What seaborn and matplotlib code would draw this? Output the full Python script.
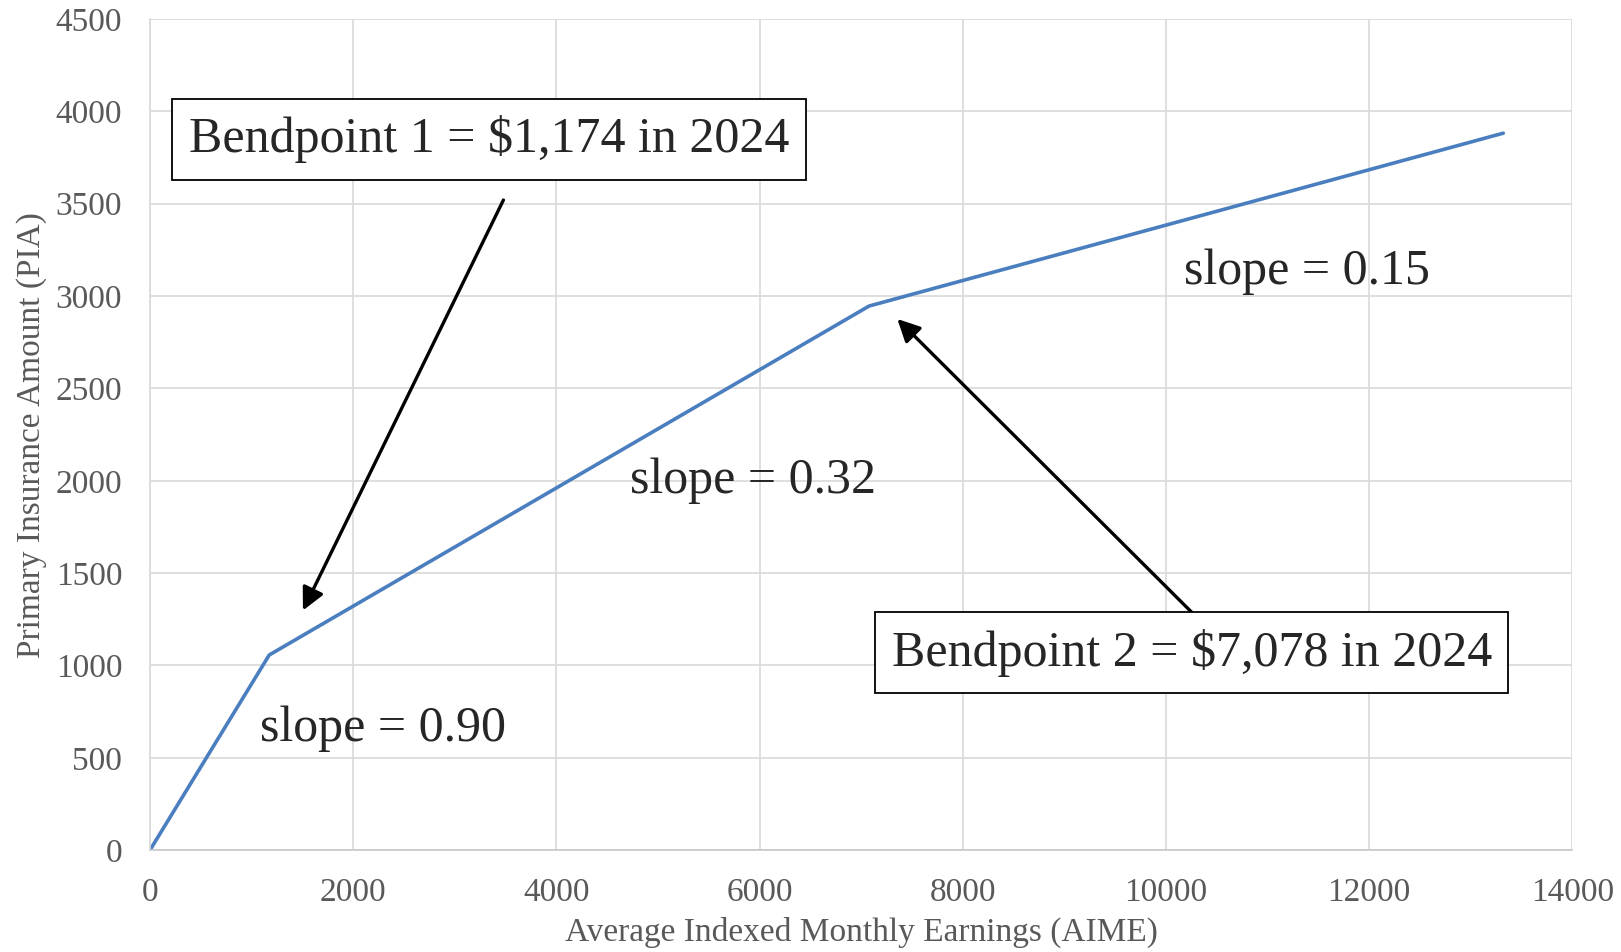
import matplotlib
matplotlib.use("Agg")
import matplotlib.pyplot as plt
import seaborn as sns
import pandas as pd

# PIA formula kink points (2024 bendpoints)
aime = [0, 1174, 7078, 13320]
pia = [0, 1056.6, 2946.0, 3882.0]

x_ticks = [0, 2000, 4000, 6000, 8000, 10000, 12000, 14000]
y_ticks = [0, 500, 1000, 1500, 2000, 2500, 3000, 3500, 4000, 4500]

bend1_label = "Bendpoint 1 = $1,174 in 2024"
bend2_label = "Bendpoint 2 = $7,078 in 2024"
slope_labels = ["slope = 0.90", "slope = 0.32", "slope = 0.15"]

sns.set_theme(style="white")
plt.rcParams["font.family"] = ["Liberation Serif", "DejaVu Serif"]

df = pd.DataFrame({"AIME": aime, "PIA": pia})

fig = plt.figure(figsize=(16.21, 9.52), dpi=100)
ax = fig.add_axes([0.0925, 0.107, 0.8775, 0.873])

sns.lineplot(data=df, x="AIME", y="PIA", ax=ax, color="#4a7ebf", linewidth=2.6)

ax.set_xlim(0, 14000)
ax.set_ylim(0, 4500)
ax.set_xticks(x_ticks)
ax.set_yticks(y_ticks)
ax.grid(True, color="#d9d9d9", linewidth=1.2)
ax.set_axisbelow(True)
for side in ["top", "right"]:
    ax.spines[side].set_visible(False)
ax.spines["left"].set_color("#d9d9d9")
ax.spines["bottom"].set_color("#c8c8c8")
ax.spines["left"].set_linewidth(1.2)
ax.spines["bottom"].set_linewidth(1.2)

ax.tick_params(axis="y", length=0, labelsize=24, labelcolor="#595959", pad=20)
ax.tick_params(axis="x", length=0, labelsize=24, labelcolor="#595959", pad=20)
ax.set_xlabel("Average Indexed Monthly Earnings (AIME)", fontsize=24, color="#595959", labelpad=6)
ax.set_ylabel("Primary Insurance Amount (PIA)", fontsize=24, color="#595959", labelpad=6)

box = dict(boxstyle="square,pad=0.33", facecolor="white", edgecolor="black", linewidth=1.3)
arrow = dict(arrowstyle="-|>", mutation_scale=34, lw=2.4, color="black", shrinkA=0, shrinkB=0)

ax.annotate("", xy=(1506, 1298), xytext=(3479, 3520), arrowprops=arrow)
ax.annotate("", xy=(7356, 2876), xytext=(10255, 1287), arrowprops=arrow)

ax.text(3337, 3850, bend1_label, fontsize=36, ha="center", va="center", bbox=box, zorder=5)
ax.text(10255, 1069, bend2_label, fontsize=36, ha="center", va="center", bbox=box, zorder=5)

ax.text(2289, 655, slope_labels[0], fontsize=36, ha="center", va="center")
ax.text(5931, 1998, slope_labels[1], fontsize=36, ha="center", va="center")
ax.text(11385, 3134, slope_labels[2], fontsize=36, ha="center", va="center")

fig.savefig("out.png", dpi=100)
